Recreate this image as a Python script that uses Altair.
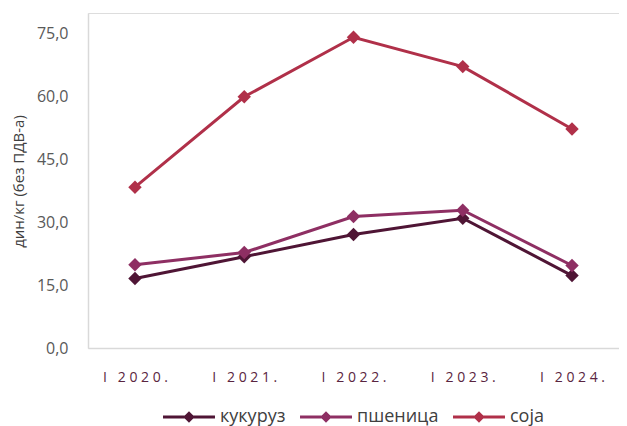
import altair as alt
import pandas as pd

years = ["I 2020.", "I 2021.", "I 2022.", "I 2023.", "I 2024."]
series = ["кукуруз", "пшеница", "соја"]
kukuruz = [16.6, 21.8, 27.1, 31.0, 17.3]
psenica = [19.9, 22.8, 31.4, 32.9, 19.7]
soja = [38.4, 60.0, 74.2, 67.2, 52.3]
colors = ["#4f1535", "#8e2f63", "#b03049"]
y_ticks = [0, 15, 30, 45, 60, 75]

rows = []
for name, vals in zip(series, [kukuruz, psenica, soja]):
    for yr, v in zip(years, vals):
        rows.append({"year": yr, "series": name, "value": v})
df = pd.DataFrame(rows)

font = "Open Sans"
NB = "\u00a0"

x = alt.X("year:N", sort=years, title=None,
          scale=alt.Scale(type="point", padding=0.43),
          axis=alt.Axis(labelExpr="join(split(replace(datum.label, ' ', '" + NB + "'), ''), '" + NB + "')",
                        labelFont=font, labelFontSize=14, labelColor="#5a2540",
                        labelPadding=22, ticks=False, domainColor="#d9d9d9",
                        domainWidth=1.5, labelAngle=0))
y = alt.Y("value:Q", title="дин/кг (без ПДВ-а)",
          scale=alt.Scale(domain=[0, 80], nice=False),
          axis=alt.Axis(values=y_ticks, grid=False, ticks=False,
                        labelExpr="replace(format(datum.value, '.1f'), '.', ',')",
                        labelFont=font, labelFontSize=16, labelColor="#595959",
                        labelPadding=20, domainColor="#d9d9d9", domainWidth=1.5,
                        titleFont=font, titleFontSize=15, titleFontWeight="normal",
                        titleColor="#404040", titlePadding=10, titleY=168))
color_scale = alt.Scale(domain=series, range=colors)
legend = alt.Legend(title=None, orient="none", direction="horizontal",
                    legendX=75, legendY=378, padding=0,
                    symbolType="M-1,-0.06H1V0.06H-1Z M0,-0.22L0.22,0L0,0.22L-0.22,0Z",
                    symbolSize=2700, symbolStrokeWidth=0, symbolOpacity=1,
                    labelFont=font, labelFontSize=18, labelColor="#404040",
                    labelOffset=5, columnPadding=14)

lines = alt.Chart(df).mark_line(strokeWidth=3).encode(
    x=x, y=y,
    color=alt.Color("series:N", scale=color_scale, legend=legend),
    detail="series:N")

points = alt.Chart(df).mark_point(shape="diamond", filled=True, size=180, opacity=1).encode(
    x=x, y=y,
    color=alt.Color("series:N", scale=color_scale, legend=legend))

chart = (lines + points).properties(
    width=531, height=335,
    autosize=alt.AutoSizeParams(type="none"),
    padding={"left": 80, "top": 5, "right": 0, "bottom": 78},
).configure_view(stroke=None).configure(background="white")

chart.save("out.html", embed_options={"renderer": "svg", "actions": False})
